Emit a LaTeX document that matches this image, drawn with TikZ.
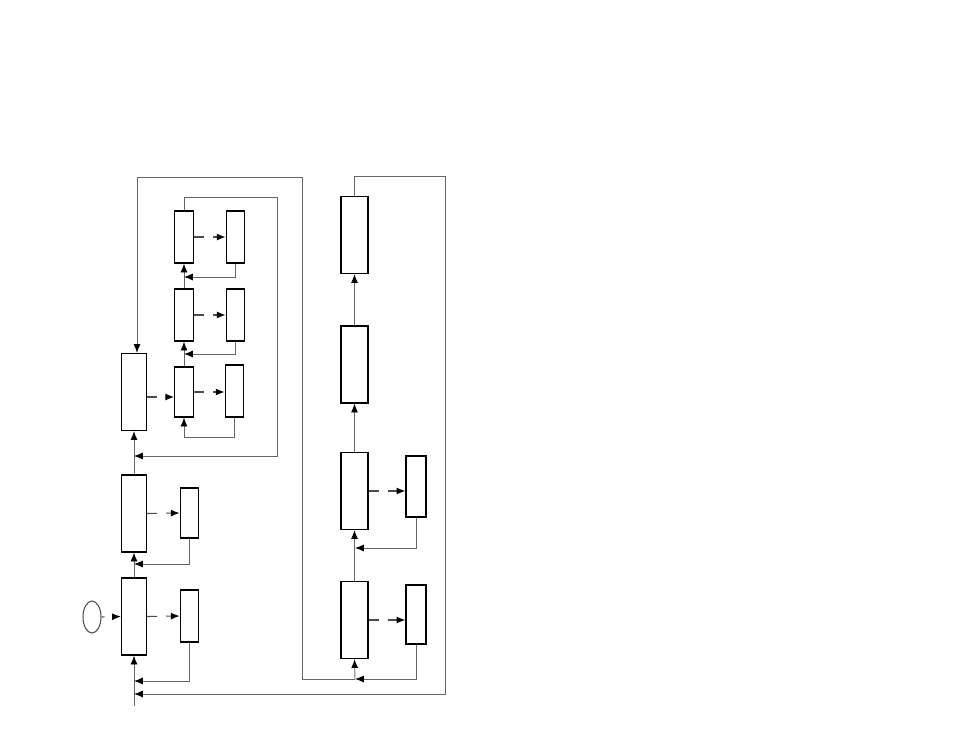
\documentclass[tikz,border=0pt]{standalone}
\usetikzlibrary{scopes,arrows.meta,shapes.geometric}

\begin{document}
\begin{tikzpicture}[
    x=0.02cm, y=-0.02cm,
    blk/.style={rectangle,draw=black,fill=white,line width=0.75pt,minimum width=0.5cm,minimum height=1.54cm,inner sep=0pt},
    wblk/.style={blk,minimum width=0.54cm},
    sub/.style={rectangle,draw=black,fill=white,line width=0.75pt,minimum width=0.37cm,minimum height=1.04cm,inner sep=0pt},
    flow/.style={draw=black!60,line width=0.5pt,>={Latex[length=5pt,width=4pt,color=black]}},
    dsh/.style={flow,draw=black!70,line width=0.6pt,dash pattern=on 0.2cm off 0.18cm},
]
    \useasboundingbox (0,0) rectangle (954,737);

    % left column
    \node[draw=black!70,line width=0.6pt,ellipse,minimum width=0.36cm,minimum height=0.64cm,inner sep=0pt] (src) at (92,617) {};
    \node[blk] (a1) at (134,616.5) {};
    \node[blk] (a2) at (134,513.5) {};
    \node[blk] (a3) at (134,392) {};
    \node[sub] (b1) at (189.5,616) {};
    \node[sub,minimum height=1cm] (b2) at (189.5,513) {};
    \node[sub] (c1) at (184,237) {};
    \node[sub] (c2) at (184,315) {};
    \node[sub,minimum height=1cm] (c3) at (184,392) {};
    \node[sub] (d1) at (235.5,237) {};
    \node[sub] (d2) at (235.5,315) {};
    \node[sub] (d3) at (234.5,391) {};

    % right column
    \node[wblk] (e1) at (354.5,620) {};
    \node[wblk] (e2) at (354.5,491) {};
    \node[wblk] (e3) at (354.5,364.5) {};
    \node[wblk] (e4) at (354.5,235) {};
    \node[sub,minimum width=0.4cm,minimum height=1.18cm] (f1) at (416,614.5) {};
    \node[sub,minimum width=0.4cm,minimum height=1.22cm] (f2) at (416,486.5) {};

    \coordinate (in) at (134,706);
    \coordinate (fb0) at (134,694);
    \coordinate (fb1) at (134,681);
    \coordinate (fb2) at (134,564);
    \coordinate (fb3) at (134,456);
    \coordinate (fc1) at (184,277);
    \coordinate (fc2) at (184,354);
    \coordinate (fe1) at (355,679);
    \coordinate (fe2) at (355,548);

    {[flow,->]
        \draw (in) -- (a1.south);
        \draw (a1.north) -- (a2.south);
        \draw (a2.north) -- (a3.south);
        \draw (b1.south) |- (fb1);
        \draw (b2.south) |- (fb2);
        \draw (c3.north) -- (c2.south);
        \draw (c2.north) -- (c1.south);
        \draw (d1.south) |- (fc1);
        \draw (d2.south) |- (fc2);
        \draw (d3.south) -- ++(0,20) -| (c3.south);
        \draw (c1.north) |- (277,197) |- (fb3);
    }
    {[flow,->]
        \draw (fe1) -- (e1.south);
        \draw (e1.north) -- (e2.south);
        \draw (e2.north) -- (e3.south);
        \draw (e3.north) -- (e4.south);
        \draw (f1.south) |- (fe1);
        \draw (f2.south) |- (fe2);
        \draw (e4.north) |- (445,176) |- (fb0);
        \draw (fe1) -| (302,177) -| ([xshift=0.06cm]a3.north);
    }
    {[dsh,->]
        \draw[dash phase=0.14cm] (src.east) -- (a1.west);
        \draw (a1.east) -- (b1.west);
        \draw (a2.east) -- (b2.west);
        \draw ([yshift=-0.1cm]a3.east) -- ([yshift=-0.1cm]c3.west);
        \draw (c1.east) -- (d1.west);
        \draw (c2.east) -- (d2.west);
        \draw (c3.east) -- (c3.east -| d3.west);
        \draw (e1.east) -- (e1.east -| f1.west);
        \draw (e2.east) -- (e2.east -| f2.west);
    }
\end{tikzpicture}
\end{document}
